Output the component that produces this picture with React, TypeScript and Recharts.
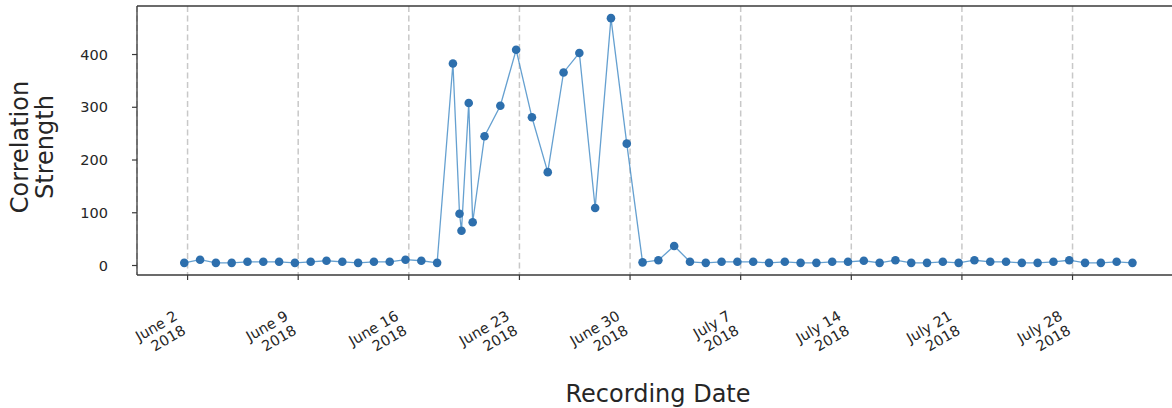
import React from "react";
import {
  LineChart,
  Line,
  XAxis,
  YAxis,
  CartesianGrid,
  ReferenceLine,
} from "recharts";

// Recording times (UTC) and correlation strength values
const recordTimes: string[] = [
  "2018-06-01T19:00", "2018-06-02T19:00", "2018-06-03T19:00", "2018-06-04T19:00",
  "2018-06-05T19:00", "2018-06-06T19:00", "2018-06-07T19:00", "2018-06-08T19:00",
  "2018-06-09T19:00", "2018-06-10T19:00", "2018-06-11T19:00", "2018-06-12T19:00",
  "2018-06-13T19:00", "2018-06-14T19:00", "2018-06-15T19:00", "2018-06-16T19:00",
  "2018-06-17T19:00", "2018-06-18T19:00", "2018-06-19T05:00", "2018-06-19T08:00",
  "2018-06-19T19:00", "2018-06-20T01:00", "2018-06-20T19:00", "2018-06-21T19:00",
  "2018-06-22T19:00", "2018-06-23T19:00", "2018-06-24T19:00", "2018-06-25T19:00",
  "2018-06-26T19:00", "2018-06-27T19:00", "2018-06-28T19:00", "2018-06-29T19:00",
  "2018-06-30T19:00", "2018-07-01T19:00", "2018-07-02T19:00", "2018-07-03T19:00",
  "2018-07-04T19:00", "2018-07-05T19:00", "2018-07-06T19:00", "2018-07-07T19:00",
  "2018-07-08T19:00", "2018-07-09T19:00", "2018-07-10T19:00", "2018-07-11T19:00",
  "2018-07-12T19:00", "2018-07-13T19:00", "2018-07-14T19:00", "2018-07-15T19:00",
  "2018-07-16T19:00", "2018-07-17T19:00", "2018-07-18T19:00", "2018-07-19T19:00",
  "2018-07-20T19:00", "2018-07-21T19:00", "2018-07-22T19:00", "2018-07-23T19:00",
  "2018-07-24T19:00", "2018-07-25T19:00", "2018-07-26T19:00", "2018-07-27T19:00",
  "2018-07-28T19:00", "2018-07-29T19:00", "2018-07-30T19:00", "2018-07-31T19:00",
];

const strengthValues: number[] = [
  5, 11, 5, 5, 7, 7, 7, 5, 7, 9, 7, 5, 7, 7, 11, 9,
  5, 383, 98, 66, 308, 82, 245, 303, 409, 281, 177, 366, 403, 109, 469, 231,
  6, 10, 37, 7, 5, 7, 7, 7, 5, 7, 5, 5, 7, 7, 9, 5,
  10, 5, 5, 7, 5, 10, 7, 7, 5, 5, 7, 10, 5, 5, 7, 5,
];

const tickDates: string[] = [
  "2018-06-02T00:00", "2018-06-09T00:00", "2018-06-16T00:00", "2018-06-23T00:00",
  "2018-06-30T00:00", "2018-07-07T00:00", "2018-07-14T00:00", "2018-07-21T00:00",
  "2018-07-28T00:00",
];

const yTicks: number[] = [0, 100, 200, 300, 400];
const monthNames: string[] = ["January", "February", "March", "April", "May", "June", "July", "August"];

const toMs = (s: string) => Date.parse(s + ":00Z");
const DAY = 86400000;

const data = recordTimes.map((t, i) => ({ t: toMs(t), v: strengthValues[i] }));
const xTicks = tickDates.map(toMs);
const xDomain = [toMs("2018-06-02T00:00") - 3.2 * DAY, toMs("2018-06-02T00:00") + 62.8 * DAY];
const yDomain = [-18, 492];

const FONT = "DejaVu Sans";
const TEXT = "#262626";
const FRAME = "#3a3a3a";

function DateTick(props: any) {
  const { x, y, payload } = props;
  const d = new Date(payload.value);
  const line1 = `${monthNames[d.getUTCMonth()]} ${d.getUTCDate()}`;
  const line2 = `${d.getUTCFullYear()}`;
  return (
    <g transform={`translate(${x - 9},${y + 39})`}>
      <text transform="rotate(-30)" textAnchor="end" fontSize={14.5} fill={TEXT} fontFamily={FONT}>
        <tspan x={0} dy={0}>{line1}</tspan>
        <tspan x={0} dy={16.5}>{line2}</tspan>
      </text>
    </g>
  );
}

function ValueTick(props: any) {
  const { y, payload } = props;
  return (
    <text x={108} y={y} dy="0.36em" textAnchor="end" fontSize={14.5} fill={TEXT} fontFamily={FONT}>
      {payload.value}
    </text>
  );
}

export default function App() {
  return (
    <div
      style={{
        position: "absolute",
        left: 0,
        top: 0,
        width: 1172,
        height: 408,
        overflow: "hidden",
        background: "#ffffff",
      }}
    >
      <LineChart
        width={1190}
        height={408}
        data={data}
        margin={{ top: 6, right: 10, left: 0, bottom: 43 }}
      >
        <CartesianGrid
          horizontal={false}
          vertical={true}
          stroke="#c8c8c8"
          strokeWidth={1.5}
          strokeDasharray="6 3.5"
        />
        <XAxis
          dataKey="t"
          type="number"
          domain={xDomain}
          ticks={xTicks}
          allowDataOverflow
          height={90}
          tickSize={5}
          tickMargin={0}
          interval={0}
          axisLine={{ stroke: FRAME, strokeWidth: 1.3 }}
          tickLine={{ stroke: FRAME, strokeWidth: 1.2 }}
          tick={<DateTick />}
          label={{
            content: () => (
              <text
                x={658}
                y={402}
                textAnchor="middle"
                fontSize={24}
                fill={TEXT}
                fontFamily={FONT}
              >
                Recording Date
              </text>
            ),
          }}
        />
        <YAxis
          type="number"
          domain={yDomain}
          ticks={yTicks}
          allowDataOverflow
          width={137}
          tickSize={5}
          axisLine={{ stroke: FRAME, strokeWidth: 1.3 }}
          tickLine={{ stroke: FRAME, strokeWidth: 1.2 }}
          tick={<ValueTick />}
          label={{
            content: () => (
              <text
                transform="translate(0,147) rotate(-90)"
                textAnchor="middle"
                fontSize={24}
                fill={TEXT}
                fontFamily={FONT}
              >
                <tspan x={0} y={28}>Correlation</tspan>
                <tspan x={0} y={53}>Strength</tspan>
              </text>
            ),
          }}
        />
        <ReferenceLine y={yDomain[1]} stroke={FRAME} strokeWidth={1.3} />
        <ReferenceLine x={xDomain[1]} stroke={FRAME} strokeWidth={1.3} />
        <Line
          type="linear"
          dataKey="v"
          stroke="#4a8fc8"
          strokeOpacity={0.85}
          strokeWidth={1.3}
          dot={{ r: 4.3, fill: "#2d6fad", stroke: "#2d6fad", strokeWidth: 0, fillOpacity: 1 }}
          activeDot={false}
          isAnimationActive={false}
        />
      </LineChart>
    </div>
  );
}
